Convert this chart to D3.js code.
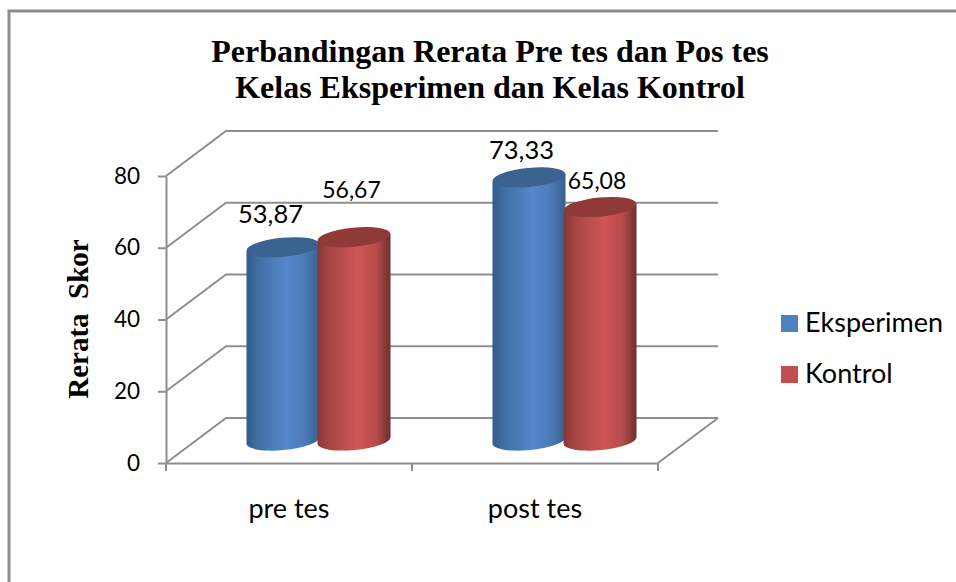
<!DOCTYPE html>
<html>
<head>
<meta charset="utf-8">
<script src="https://d3js.org/d3.v7.min.js"></script>
<style>
  html, body { margin: 0; padding: 0; background: #fff; }
  svg { display: block; }
  .serif { font-family: 'Liberation Serif', serif; font-weight: bold; fill: #000; }
  .sans { font-family: Lato, sans-serif; fill: #000; }
</style>
</head>
<body>
<svg></svg>
<script>
var categories = ['pre tes', 'post tes'];
var seriesNames = ['Eksperimen', 'Kontrol'];
var eksperimen = [53.87, 73.33];
var kontrol = [56.67, 65.08];
var valueLabels = [['53,87', '73,33'], ['56,67', '65,08']];
var yTicks = [0, 20, 40, 60, 80];
var titleLines = ['Perbandingan Rerata Pre tes dan Pos tes', 'Kelas Eksperimen dan Kelas Kontrol'];

var width = 956;
var height = 582;
var plotLeft = 166, plotRight = 658, plotBottom = 463, plotTop = 176;
var depthX = 60, depthY = -45;
var axisColor = '#8e8e8e';

var svg = d3.select('svg').attr('width', width).attr('height', height);

var x = d3.scaleBand().domain(categories).range([plotLeft, plotRight]);
var inner = d3.scaleBand().domain(seriesNames).range([-71, 71]);
var y = d3.scaleLinear().domain([0, 80]).range([plotBottom, plotTop]);

// outer frame, only top and left are in the picture
svg.append('path')
  .attr('d', 'M9,582 V11 H956')
  .attr('fill', 'none')
  .attr('stroke', axisColor)
  .attr('stroke-width', 3);

// gradients for the cylinders
var defs = svg.append('defs');
function addGradient(id, stops) {
  var g = defs.append('linearGradient').attr('id', id);
  stops.forEach(s => g.append('stop').attr('offset', s[0]).attr('stop-color', s[1]));
}
addGradient('blue', [[0, '#315b88'], [0.15, '#3f6ea3'], [0.55, '#5488cc'], [0.8, '#4b7ab6'], [1, '#375f8c']]);
addGradient('red', [[0, '#843836'], [0.15, '#a44543'], [0.55, '#cf5654'], [0.8, '#b94c4a'], [1, '#6c2f2e']]);

// back wall gridlines and the slanted floor/side lines
var wall = svg.append('g')
  .attr('fill', 'none')
  .attr('stroke', axisColor)
  .attr('stroke-width', 2);

yTicks.forEach(t => {
  wall.append('path')
    .attr('d', `M${plotLeft},${y(t)} L${plotLeft + depthX},${y(t) + depthY} H${plotRight + depthX}`);
});
wall.append('path')
  .attr('d', `M${plotRight},${y(0)} L${plotRight + depthX},${y(0) + depthY}`);

// front axes
var yAxis = d3.axisLeft(y).tickValues(yTicks).tickSize(8).tickPadding(18).tickSizeOuter(0);
var gy = svg.append('g').attr('transform', `translate(${plotLeft},0)`).call(yAxis);
var xAxis = d3.axisBottom(x).tickValues([]).tickSize(0).tickSizeOuter(0);
var gx = svg.append('g').attr('transform', `translate(0,${plotBottom})`).call(xAxis);
[plotLeft, plotLeft + x.bandwidth(), plotRight].forEach(p => {
  gx.append('line').attr('x1', p).attr('x2', p).attr('y1', 0).attr('y2', 8);
});
svg.selectAll('.domain, .tick line').attr('stroke', axisColor).attr('stroke-width', 2);
gx.selectAll('line').attr('stroke', axisColor).attr('stroke-width', 2);
gy.selectAll('text')
  .attr('font-size', 22.5)
  .attr('font-family', 'Lato, sans-serif')
  .attr('fill', '#000');

// cylinders
var rx = 36.5, ry = 9.5, tilt = -5.5;
var tiltDy = rx * Math.sin(-tilt * Math.PI / 180);
var seriesValues = [eksperimen, kontrol];
var colors = ['blue', 'red'];
var topColors = ['#3b6391', '#8f3a38'];

function cylinder(cat, s) {
  var v = seriesValues[s][categories.indexOf(cat)];
  var cx = x(cat) + x.bandwidth() / 2 + depthX / 2 - 0.5 + inner(seriesNames[s]) + inner.bandwidth() / 2;
  var yBase = y(0) + depthY / 2;
  var yTop = y(v) + depthY / 2;
  var l = cx - rx, r = cx + rx;
  svg.append('path')
    .attr('d', `M${l},${yTop + tiltDy} L${l},${yBase + tiltDy} A${rx},${ry} ${tilt} 0 0 ${r},${yBase - tiltDy} L${r},${yTop - tiltDy} Z`)
    .attr('fill', `url(#${colors[s]})`);
  svg.append('ellipse')
    .attr('cx', cx).attr('cy', yTop)
    .attr('rx', rx).attr('ry', ry)
    .attr('transform', `rotate(${tilt} ${cx} ${yTop})`)
    .attr('fill', topColors[s]);
  return { cx: cx, yTop: yTop };
}

// data labels were hand placed in the original, offsets per series and category
var labelDx = [[-12.5, -7.5], [-2.5, -3]];
var labelDy = [[-24, -18], [-39, -18]];
var labelSize = [25.5, 23];
var labels = [];
categories.forEach((cat, i) => {
  seriesNames.forEach((name, s) => {
    var c = cylinder(cat, s);
    labels.push({ x: c.cx + labelDx[s][i], y: c.yTop + labelDy[s][i], size: labelSize[s], text: valueLabels[s][i] });
  });
});
labels.forEach(d => {
  svg.append('text')
    .attr('class', 'sans')
    .attr('font-size', d.size)
    .attr('text-anchor', 'middle')
    .attr('x', d.x)
    .attr('y', d.y)
    .text(d.text);
});

// category labels
categories.forEach(cat => {
  svg.append('text')
    .attr('class', 'sans')
    .attr('font-size', 27)
    .attr('text-anchor', 'middle')
    .attr('x', x(cat) + x.bandwidth() / 2)
    .attr('y', 518)
    .text(cat);
});

// title
titleLines.forEach((t, i) => {
  svg.append('text')
    .attr('class', 'serif')
    .attr('font-size', 32)
    .attr('text-anchor', 'middle')
    .attr('x', 490)
    .attr('y', 62 + i * 36)
    .text(t);
});

// y axis title
svg.append('text')
  .attr('class', 'serif')
  .attr('font-size', 29)
  .attr('text-anchor', 'middle')
  .attr('transform', 'translate(88,319) rotate(-90)')
  .style('white-space', 'pre')
  .text('Rerata  Skor');

// legend
var legendColors = ['#4f81bd', '#c0504d'];
seriesNames.forEach((name, s) => {
  var ly = 323.5 + s * 51;
  svg.append('rect')
    .attr('x', 781).attr('y', ly - 8.5)
    .attr('width', 17).attr('height', 17)
    .attr('fill', legendColors[s]);
  svg.append('text')
    .attr('class', 'sans')
    .attr('font-size', 27)
    .attr('x', 805)
    .attr('y', ly + 8.5)
    .text(name);
});
</script>
</body>
</html>
